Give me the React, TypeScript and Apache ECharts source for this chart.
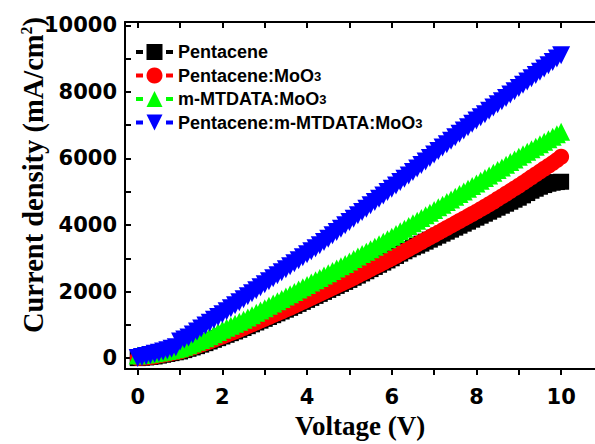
import React, { useEffect, useRef } from 'react';
import * as echarts from 'echarts';

const voltage = [
  0.0, 0.1, 0.2, 0.3, 0.4, 0.5, 0.6, 0.7, 0.8, 0.9,
  1.0, 1.1, 1.2, 1.3, 1.4, 1.5, 1.6, 1.7, 1.8, 1.9,
  2.0, 2.1, 2.2, 2.3, 2.4, 2.5, 2.6, 2.7, 2.8, 2.9,
  3.0, 3.1, 3.2, 3.3, 3.4, 3.5, 3.6, 3.7, 3.8, 3.9,
  4.0, 4.1, 4.2, 4.3, 4.4, 4.5, 4.6, 4.7, 4.8, 4.9,
  5.0, 5.1, 5.2, 5.3, 5.4, 5.5, 5.6, 5.7, 5.8, 5.9,
  6.0, 6.1, 6.2, 6.3, 6.4, 6.5, 6.6, 6.7, 6.8, 6.9,
  7.0, 7.1, 7.2, 7.3, 7.4, 7.5, 7.6, 7.7, 7.8, 7.9,
  8.0, 8.1, 8.2, 8.3, 8.4, 8.5, 8.6, 8.7, 8.8, 8.9,
  9.0, 9.1, 9.2, 9.3, 9.4, 9.5, 9.6, 9.7, 9.8, 9.9,
  10.0,
];

const pentacene = [
  0, 10, 20, 35, 50, 75, 100, 125, 150, 175,
  200, 240, 280, 320, 360, 405, 450, 500, 550, 600,
  650, 700, 750, 800, 850, 905, 960, 1015, 1070, 1125,
  1180, 1235, 1290, 1345, 1400, 1455, 1510, 1570, 1630, 1690,
  1750, 1810, 1870, 1930, 1990, 2050, 2110, 2170, 2230, 2290,
  2350, 2415, 2480, 2545, 2610, 2675, 2740, 2805, 2870, 2935,
  3000, 3070, 3140, 3210, 3270, 3330, 3380, 3440, 3500, 3560,
  3620, 3680, 3740, 3800, 3860, 3920, 3980, 4040, 4100, 4160,
  4220, 4280, 4340, 4400, 4460, 4520, 4580, 4640, 4700, 4760,
  4820, 4890, 4960, 5030, 5090, 5150, 5200, 5240, 5270, 5290,
  5300,
];

const pentaceneMoO3 = [
  0, 10, 20, 35, 50, 75, 100, 125, 150, 175,
  200, 240, 280, 320, 360, 405, 450, 500, 550, 600,
  650, 700, 750, 800, 850, 905, 960, 1015, 1070, 1125,
  1180, 1235, 1290, 1345, 1400, 1455, 1510, 1570, 1630, 1690,
  1750, 1810, 1870, 1930, 1990, 2050, 2110, 2170, 2230, 2290,
  2350, 2415, 2480, 2545, 2610, 2675, 2740, 2805, 2870, 2935,
  3000, 3070, 3140, 3210, 3280, 3350, 3420, 3490, 3560, 3630,
  3700, 3770, 3840, 3910, 3980, 4050, 4120, 4190, 4260, 4330,
  4400, 4475, 4550, 4625, 4700, 4780, 4860, 4940, 5020, 5100,
  5180, 5265, 5350, 5435, 5520, 5605, 5690, 5775, 5860, 5950,
  6050,
];

const mtdataMoO3 = [
  80, 95, 110, 130, 150, 170, 190, 215, 240, 270,
  300, 345, 390, 440, 490, 545, 600, 660, 720, 785,
  850, 910, 970, 1030, 1090, 1155, 1220, 1290, 1360, 1430,
  1500, 1570, 1640, 1710, 1780, 1850, 1920, 1990, 2060, 2130,
  2200, 2270, 2340, 2410, 2480, 2550, 2620, 2690, 2760, 2830,
  2900, 2975, 3050, 3125, 3200, 3275, 3350, 3425, 3500, 3575,
  3650, 3730, 3810, 3890, 3970, 4050, 4130, 4210, 4290, 4370,
  4450, 4530, 4610, 4690, 4770, 4850, 4930, 5010, 5090, 5170,
  5250, 5330, 5410, 5490, 5570, 5650, 5730, 5810, 5890, 5970,
  6050, 6125, 6200, 6275, 6350, 6425, 6500, 6575, 6650, 6725,
  6800,
];

const pentaceneMtdataMoO3 = [
  0, 30, 60, 95, 130, 165, 200, 240, 280, 330,
  500, 560, 620, 710, 800, 890, 980, 1065, 1150, 1235,
  1320, 1410, 1500, 1590, 1680, 1770, 1860, 1950, 2040, 2130,
  2220, 2310, 2400, 2490, 2580, 2670, 2760, 2850, 2940, 3030,
  3120, 3210, 3300, 3395, 3490, 3590, 3690, 3790, 3890, 3990,
  4090, 4190, 4290, 4390, 4490, 4590, 4690, 4790, 4890, 4990,
  5090, 5190, 5290, 5390, 5490, 5595, 5700, 5805, 5910, 6015,
  6120, 6225, 6330, 6430, 6530, 6635, 6740, 6840, 6940, 7040,
  7140, 7235, 7330, 7430, 7530, 7625, 7720, 7820, 7920, 8020,
  8120, 8215, 8310, 8410, 8510, 8605, 8700, 8800, 8900, 9000,
  9100,
];

const seriesNames = ['Pentacene', 'Pentacene:MoO3', 'm-MTDATA:MoO3', 'Pentacene:m-MTDATA:MoO3'];
const seriesColors = ['#000000', '#ff0000', '#00ff00', '#0000ff'];

const xLabelValues = [0, 2, 4, 6, 8, 10];
const xTickValues = [0, 1, 2, 3, 4, 5, 6, 7, 8, 9, 10];
const yLabelValues = [0, 2000, 4000, 6000, 8000, 10000];
const yTickValues = [0, 1000, 2000, 3000, 4000, 5000, 6000, 7000, 8000, 9000, 10000];

const pairs = (ys: number[]) => voltage.map((v, i) => [v, ys[i]]);

export default function App() {
  const ref = useRef<HTMLDivElement>(null);
  useEffect(() => {
    if (!ref.current) return;
    const chart = echarts.init(ref.current, undefined, { renderer: 'svg' });
    const tickFont = { fontFamily: 'DejaVu Sans', fontWeight: 'bold' as const, fontSize: 21, color: '#000' };
    const serif = 'Liberation Serif';
    const mk = (idx: number, symbol: string, size: number, data: number[], z: number) => ({
      name: seriesNames[idx],
      type: 'line',
      data: pairs(data),
      symbol,
      symbolSize: size,
      showSymbol: true,
      z,
      color: seriesColors[idx],
      itemStyle: { color: seriesColors[idx], borderWidth: 0 },
      lineStyle: { color: seriesColors[idx], width: 2 },
    });
    chart.setOption({
      animation: false,
      backgroundColor: '#fff',
      grid: { left: 125, top: 22, bottom: 64, right: 0, containLabel: false },
      xAxis: [
        {
          type: 'value', min: -0.3, max: 10.8, position: 'bottom',
          axisLine: { show: true, onZero: false, lineStyle: { color: '#000', width: 2 } },
          axisTick: { show: true, inside: false, length: 6, lineStyle: { width: 2, color: '#000' }, customValues: xTickValues },
          axisLabel: { ...tickFont, margin: 17, customValues: xLabelValues, formatter: (v: number) => String(v) },
          splitLine: { show: false },
          name: 'Voltage (V)', nameLocation: 'middle', nameGap: 38,
          nameTextStyle: { fontFamily: serif, fontWeight: 'bold', fontSize: 27, color: '#000' },
        },
        {
          type: 'value', min: -0.3, max: 10.8, position: 'top',
          axisLine: { show: true, onZero: false, lineStyle: { color: '#000', width: 2 } },
          axisTick: { show: true, inside: true, length: 6, lineStyle: { width: 2, color: '#000' }, customValues: xTickValues },
          axisLabel: { show: false },
          splitLine: { show: false },
        },
      ],
      yAxis: {
        type: 'value', min: -330, max: 10100,
        axisLine: { show: true, onZero: false, lineStyle: { color: '#000', width: 2 } },
        axisTick: { show: true, inside: true, length: 6, lineStyle: { width: 2, color: '#000' }, customValues: yTickValues },
        axisLabel: { ...tickFont, margin: 8, customValues: yLabelValues, formatter: (v: number) => String(v) },
        splitLine: { show: false },
      },
      legend: {
        orient: 'vertical', left: 129, top: 38,
        itemWidth: 37, itemHeight: 20, itemGap: 5.5,
        data: seriesNames,
        lineStyle: { width: 4, type: [7, 23] },
        formatter: (name: string) => name.replace('MoO3', 'MoO{sub|3}'),
        textStyle: {
          fontFamily: 'Liberation Sans', fontWeight: 'bold', fontSize: 18, color: '#000',
          rich: { sub: { fontFamily: 'Liberation Sans', fontWeight: 'bold', fontSize: 13, color: '#000', verticalAlign: 'bottom', padding: [0, 0, 2, 0] } },
        },
      },
      graphic: [
        {
          type: 'text', x: 33, y: 175, rotation: Math.PI / 2,
          style: {
            text: 'Current density (mA/cm{sup|2})',
            fontFamily: serif, fontWeight: 'bold', fontSize: 28.5, fill: '#000',
            align: 'center', verticalAlign: 'middle',
            rich: { sup: { fontFamily: serif, fontWeight: 'bold', fontSize: 16, fill: '#000', verticalAlign: 'top', padding: [0, 0, 9, 0] } },
          },
        },
      ],
      series: [
        mk(0, 'rect', 16, pentacene, 2),
        mk(1, 'circle', 16, pentaceneMoO3, 3),
        mk(2, 'triangle', 18, mtdataMoO3, 4),
        mk(3, 'path://M0,0L10,0L5,9Z', 18, pentaceneMtdataMoO3, 5),
      ],
    });
    return () => chart.dispose();
  }, []);
  return <div ref={ref} style={{ position: 'absolute', left: 0, top: 0, width: 595, height: 444 }} />;
}
